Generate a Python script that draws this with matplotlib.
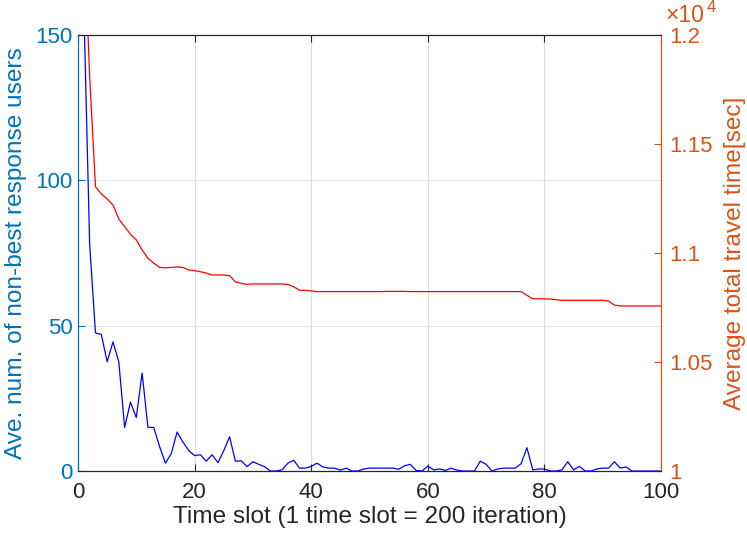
import numpy as np
import matplotlib.pyplot as plt
from matplotlib.ticker import FuncFormatter

plt.rcParams['font.family'] = ['Liberation Sans', 'DejaVu Sans']

# time slots 1..100
t = np.arange(1, 101)

# non-best response users (left axis)
users = [160, 78, 47.5, 47, 37.6, 44.4, 37.6, 15, 23.7, 18.4,
         33.7, 15, 15, 8.4, 2.7, 6, 13.4, 10, 7, 5.3,
         5.6, 3.4, 5.6, 2.9, 7, 11.8, 3.4, 3.5, 1.5, 3.2,
         2.3, 1.5, 0, 0, 0.4, 2.7, 3.7, 1, 1, 1.6,
         2.7, 1.4, 1, 1, 0.3, 1, 0, 0, 0.7, 1,
         1, 1, 1, 1, 0.6, 1.8, 2.3, 0.2, 0, 1.7,
         0.4, 0.7, 0.2, 1, 0.3, 0, 0, 0, 3.4, 2.3,
         0, 0.7, 1, 1, 1, 2.5, 8, 0.4, 0.7, 0.7,
         0, 0, 0.4, 3.2, 0.4, 1.6, 0, 0, 0.7, 1,
         1, 3.2, 1, 1.4, 0, 0, 0, 0, 0, 0]

# average total travel time [sec] (right axis)
travel = [12500, 11810, 11304, 11271, 11248, 11220, 11156, 11121, 11086, 11060,
          11014, 10976, 10953, 10934, 10932, 10934, 10936, 10934, 10922, 10919,
          10914, 10908, 10899, 10899, 10899, 10896, 10868, 10861, 10856, 10858,
          10858, 10858, 10858, 10858, 10858, 10856, 10845, 10829, 10829, 10826,
          10823, 10823, 10823, 10823, 10823, 10823, 10823, 10823, 10823, 10823,
          10823, 10823, 10824, 10824, 10824, 10824, 10823, 10823, 10823, 10823,
          10823, 10823, 10823, 10823, 10823, 10823, 10823, 10823, 10823, 10823,
          10823, 10823, 10823, 10823, 10823, 10823, 10806, 10790, 10790, 10790,
          10789, 10786, 10783, 10783, 10783, 10783, 10783, 10783, 10783, 10783,
          10780, 10761, 10757, 10757, 10757, 10757, 10757, 10757, 10757, 10757]

xticks = [0, 20, 40, 60, 80, 100]
lticks = [0, 50, 100, 150]
rticks = [10000, 10500, 11000, 11500, 12000]

cblue = '#0072BD'
corange = '#D95319'
cdark = '#262626'

fig = plt.figure(figsize=(7.47, 5.38), dpi=100)
ax = fig.add_axes([0.1044, 0.1245, 0.7805, 0.8105])
ax2 = ax.twinx()

ax.plot(t, users, color='b', lw=0.9)
ax2.plot(t, travel, color='r', lw=0.9)

ax.set_xlim(0, 100)
ax.set_ylim(0, 150)
ax2.set_ylim(10000, 12000)
ax.set_xticks(xticks)
ax.set_yticks(lticks)
ax2.set_yticks(rticks)
ax2.yaxis.set_major_formatter(FuncFormatter(lambda v, _: f'{v / 1e4:g}'))

ax.grid(True, axis='x', color=cdark, alpha=0.15, lw=0.8)
ax.grid(True, axis='y', color=cblue, alpha=0.15, lw=0.8)

ax.tick_params(axis='x', direction='in', top=True, labelsize=16, colors=cdark, length=5, pad=8)
ax.tick_params(axis='y', direction='in', labelsize=16, colors=cblue, length=5, pad=4)
ax2.tick_params(axis='y', direction='in', labelsize=16, colors=corange, length=5, pad=6)

for a in (ax, ax2):
    a.spines['top'].set_color(cdark)
    a.spines['bottom'].set_color(cdark)
    a.spines['left'].set_color(cblue)
    a.spines['right'].set_color(corange)
    for s in a.spines.values():
        s.set_linewidth(0.8)

ax.set_xlabel('Time slot (1 time slot = 200 iteration)', fontsize=17.6, color=cdark, labelpad=2)
ax.set_ylabel('Ave. num. of non-best response users', fontsize=17.6, color=cblue, labelpad=6)
ax2.set_ylabel('Average total travel time[sec]', fontsize=17.6, color=corange, labelpad=8)

# exponent label above the right axis
ax2.annotate('\u00d710', xy=(1, 1), xycoords='axes fraction', xytext=(3, 9),
             textcoords='offset points', ha='left', va='baseline', fontsize=16.5, color=corange)
ax2.annotate('4', xy=(1, 1), xycoords='axes fraction', xytext=(33, 16.5),
             textcoords='offset points', ha='left', va='baseline', fontsize=12, color=corange)

fig.savefig('out.png', dpi=100)
